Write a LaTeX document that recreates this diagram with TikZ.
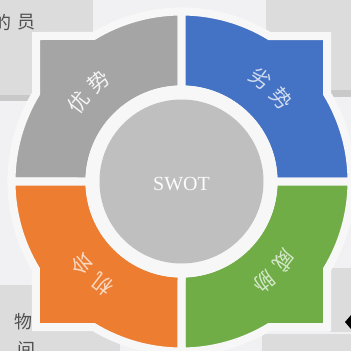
\documentclass[tikz,border=0pt]{standalone}
\usepackage{fontspec}
\setmainfont{Liberation Serif}
\newfontfamily\cjk{Noto Sans CJK SC}
\definecolor{bgc}{HTML}{F1F1F3}
\definecolor{boxc}{HTML}{DCDCDC}
\definecolor{boxd}{HTML}{C9C9C9}
\definecolor{qgray}{HTML}{A5A5A5}
\definecolor{qblue}{HTML}{4472C4}
\definecolor{qgreen}{HTML}{70AD47}
\definecolor{qorange}{HTML}{ED7D31}
\definecolor{cgray}{HTML}{BFBFBF}
\definecolor{ringc}{HTML}{F7F7F7}
\definecolor{bgtext}{HTML}{505050}
\tikzset{
  quad/.style={draw=ringc,line width=8pt,line join=miter},
  qlabel/.style={font=\cjk\fontsize{21}{21}\selectfont,inner sep=0pt},
  bglabel/.style={font=\cjk\fontsize{18}{18}\selectfont,text=bgtext,inner sep=0pt}
}
\def\swotquad{(0,92) -- (0,170) arc[start angle=90,end angle=121.13,radius=170] -- (-145.5,145.5) -- (-145.5,87.9) arc[start angle=148.87,end angle=180,radius=170] -- (-92,0) arc[start angle=180,end angle=90,radius=92] -- cycle}
\begin{document}
\begin{tikzpicture}[x=1pt,y=1pt]
\useasboundingbox (0,0) rectangle (351,-351);
\clip (0,0) rectangle (351,-351);
% background of the screenshot
\fill[bgc] (0,0) rectangle (351,-351);
\fill[boxc] (0,0) rectangle (93,-38);
\fill[boxc] (0,-38) rectangle (37,-95);
\fill[boxd] (0,-95) rectangle (37,-101);
\fill[boxc] (266,0) rectangle (351,-90);
\fill[boxd] (330,-90) rectangle (351,-97);
\fill[boxc] (0,-285) rectangle (37,-351);
\fill[boxc] (37,-330) rectangle (120,-351);
\fill[boxc] (330,-268) rectangle (351,-332);
\fill[boxc] (262,-334) rectangle (351,-351);
\node[bglabel] (t1) at (3,-22) {的};
\node[bglabel] (t2) at (26,-22) {员};
\node[bglabel] (t3) at (24,-322) {物};
\node[bglabel] (t4) at (26,-350) {间};
\fill[black] (345,-322) -- (351,-315) -- (351,-329) -- cycle;
% SWOT diagram
\begin{scope}[shift={(181.5,-181.5)}]
  \filldraw[quad,fill=qgray] \swotquad;
  \begin{scope}[rotate=-90]\filldraw[quad,fill=qblue] \swotquad;\end{scope}
  \begin{scope}[rotate=-180]\filldraw[quad,fill=qgreen] \swotquad;\end{scope}
  \begin{scope}[rotate=90]\filldraw[quad,fill=qorange] \swotquad;\end{scope}
  \fill[ringc] (0,0) circle[radius=96];
  \node[circle,fill=cgray,minimum size=164pt,inner sep=0pt] (c) at (0,0) {};
  \node[font=\fontsize{20}{20}\selectfont,text=white!95!cgray] (swot) at (0,-3) {SWOT};
  % labels
  \node[qlabel,text=white!88!qgray,rotate=52.5] (s1) at (142.5:130) {优};
  \node[qlabel,text=white!88!qgray,rotate=39.5] (s2) at (129.5:130) {势};
  \node[qlabel,text=white!75!qblue,rotate=-37.5] (w1) at (52.5:130) {劣};
  \node[qlabel,text=white!75!qblue,rotate=-50.5] (w2) at (39.5:130) {势};
  \node[qlabel,text=white!70!qgreen,rotate=-127.5] (th1) at (-37.5:130) {威};
  \node[qlabel,text=white!70!qgreen,rotate=-140.5] (th2) at (-50.5:130) {胁};
  \node[qlabel,text=white!70!qorange,rotate=142.5] (o1) at (-127.5:130) {机};
  \node[qlabel,text=white!70!qorange,rotate=129.5] (o2) at (-140.5:130) {会};
\end{scope}
\end{tikzpicture}
\end{document}
